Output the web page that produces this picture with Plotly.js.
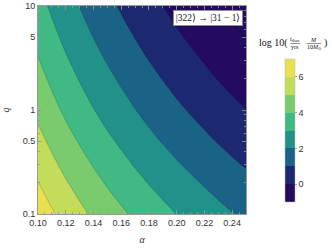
<!DOCTYPE html>
<html>
<head>
<meta charset="utf-8">
<script src="https://cdn.plot.ly/plotly-3.0.1.min.js"></script>
<style>html,body{margin:0;padding:0;background:#fff;}#chart{width:332px;height:250px;}</style>
</head>
<body>
<div id="chart"></div>
<script>
// alpha values (x)
var alphaVals = [0.10, 0.11, 0.12, 0.13, 0.14, 0.15, 0.16, 0.17, 0.18, 0.19, 0.20, 0.21, 0.22, 0.23, 0.24, 0.25];
// q values (y, log axis)
var qVals = [0.1, 0.1778, 0.3162, 0.5623, 1, 1.778, 3.162, 5.623, 10];
// log10(t_float/yrs * M/10Msun); one row per q
var zRows = [
  [6.60, 6.11, 5.65, 5.24, 4.85, 4.49, 4.16, 3.84, 3.54, 3.26, 2.99, 2.74, 2.50, 2.26, 2.04, 1.83],
  [6.12, 5.63, 5.17, 4.76, 4.37, 4.01, 3.68, 3.36, 3.06, 2.78, 2.51, 2.26, 2.02, 1.78, 1.56, 1.35],
  [5.65, 5.16, 4.70, 4.29, 3.90, 3.54, 3.21, 2.89, 2.59, 2.31, 2.04, 1.79, 1.55, 1.31, 1.09, 0.88],
  [5.20, 4.71, 4.25, 3.84, 3.45, 3.09, 2.76, 2.44, 2.14, 1.86, 1.59, 1.34, 1.10, 0.86, 0.64, 0.43],
  [4.78, 4.29, 3.83, 3.42, 3.03, 2.67, 2.34, 2.02, 1.72, 1.44, 1.17, 0.92, 0.68, 0.44, 0.22, 0.01],
  [4.39, 3.90, 3.44, 3.03, 2.64, 2.28, 1.95, 1.63, 1.33, 1.05, 0.78, 0.53, 0.29, 0.05, -0.17, -0.38],
  [4.02, 3.53, 3.07, 2.66, 2.27, 1.91, 1.58, 1.26, 0.96, 0.68, 0.41, 0.16, -0.08, -0.32, -0.54, -0.75],
  [3.67, 3.18, 2.72, 2.31, 1.92, 1.56, 1.23, 0.91, 0.61, 0.33, 0.06, -0.19, -0.43, -0.67, -0.89, -1.10],
  [3.34, 2.85, 2.39, 1.98, 1.59, 1.23, 0.90, 0.58, 0.28, 0.00, -0.27, -0.52, -0.76, -1.00, -1.22, -1.43]
];
var xTickVals = [0.10, 0.12, 0.14, 0.16, 0.18, 0.20, 0.22, 0.24];
var yTickVals = [0.1, 0.5, 1, 5, 10];
var yTickText = ['0.1', '0.5', '1', '5', '10'];
var yMinorVals = [0.2, 0.3, 0.4, 0.6, 0.7, 0.8, 0.9, 2, 3, 4, 6, 7, 8, 9];
var cbTickVals = [0, 2, 4, 6];
var cbRange = [-1, 7];
var bandColors = ['#240a60', '#1c2870', '#1b6287', '#22918a', '#40b985', '#7acb6e', '#c3dd5b', '#e9e050'];

// smooth scale for contour fill (band k sampled at k/7)
var cscale = bandColors.map(function (c, i) { return [i / (bandColors.length - 1), c]; });
// stepped scale for the colour bar (8 equal bands from -1 to 7)
var stepScale = [];
bandColors.forEach(function (c, i) {
  stepScale.push([i / bandColors.length, c]);
  stepScale.push([(i + 1) / bandColors.length, c]);
});

// layout geometry (pixels)
var L = 38, R = 86, T = 6, B = 36, W = 332, H = 250;
var pw = W - L - R, ph = H - T - B;
function px(x) { return (x - L) / pw; }
function py(y) { return (H - B - y) / ph; }

var tickFont = {family: 'Liberation Sans, Arial, sans-serif', size: 9, color: '#333'};
var serif = 'Liberation Serif, Times New Roman, serif';

var traces = [
  {
    type: 'contour', x: alphaVals, y: qVals, z: zRows,
    colorscale: cscale, autocontour: false, showscale: false,
    contours: {start: 0, end: 6, size: 1, coloring: 'fill', showlines: true},
    line: {color: 'rgba(0,0,0,0.3)', width: 0.6, smoothing: 1},
    hoverinfo: 'skip'
  },
  {
    type: 'contour', x: alphaVals, y: qVals, z: zRows, autocontour: false,
    contours: {start: -1, end: -1, size: 1, coloring: 'none', showlines: true},
    line: {color: 'rgba(0,0,0,0.45)', width: 0.6, smoothing: 1},
    showscale: false, hoverinfo: 'skip'
  },
  {
    // colour-bar carrier: its two cells sit outside the axis range, so only the bar shows
    type: 'heatmap', x: [0.40, 0.41], y: [qVals[0]], z: [cbRange],
    zauto: false, zmin: cbRange[0], zmax: cbRange[1],
    colorscale: stepScale, hoverinfo: 'skip', showscale: true,
    colorbar: {
      x: px(285), xanchor: 'left', xpad: 0,
      y: py(130.5), yanchor: 'middle', ypad: 0,
      len: 143, lenmode: 'pixels', thickness: 10, thicknessmode: 'pixels',
      outlinewidth: 0.5, outlinecolor: '#bbb',
      tickvals: cbTickVals, ticks: 'outside', ticklen: 2, tickcolor: '#999',
      tickfont: tickFont
    }
  }
];

var axisCommon = {
  showline: true, linecolor: '#999', linewidth: 1, mirror: 'allticks',
  ticks: 'inside', ticklen: 4, tickcolor: '#999', tickwidth: 0.8,
  tickfont: tickFont, showgrid: false, zeroline: false
};

var layout = {
  width: W, height: H,
  margin: {l: L, r: R, t: T, b: B},
  paper_bgcolor: '#fff', plot_bgcolor: '#fff',
  showlegend: false,
  xaxis: Object.assign({}, axisCommon, {
    range: [0.1, 0.25], autorange: false, tickvals: xTickVals, tickformat: '.2f',
    minor: {dtick: 0.005, tick0: 0.1, ticks: 'inside', ticklen: 2, tickcolor: '#999'},
    title: {text: '<i>α</i>', font: {family: serif, size: 10, color: '#333'}, standoff: 9}
  }),
  yaxis: Object.assign({}, axisCommon, {
    type: 'log', range: [-1, 1], autorange: false, tickvals: yTickVals, ticktext: yTickText,
    minor: {tickvals: yMinorVals, ticks: 'inside', ticklen: 2, tickcolor: '#999'},
    title: {text: '<i>q</i>', font: {family: serif, size: 10, color: '#333'}, standoff: 13}
  }),
  shapes: [
    {type: 'line', xref: 'paper', yref: 'paper', x0: px(290.5), x1: px(300), y0: py(43.5), y1: py(43.5), line: {color: '#222', width: 0.5}},
    {type: 'line', xref: 'paper', yref: 'paper', x0: px(306.5), x1: px(321), y0: py(43.5), y1: py(43.5), line: {color: '#222', width: 0.5}}
  ],
  annotations: [
    {xref: 'paper', yref: 'paper', x: px(243), y: py(10), xanchor: 'right', yanchor: 'top',
     text: '|322⟩ → |31 − 1⟩', showarrow: false,
     font: {family: serif, size: 9.5, color: '#111'},
     bgcolor: '#fff', bordercolor: '#888', borderwidth: 0.8, borderpad: 2},
    {xref: 'paper', yref: 'paper', x: px(290), y: py(42.5), xanchor: 'right', yanchor: 'middle',
     text: 'log 10(', showarrow: false, font: {family: serif, size: 10, color: '#111'}},
    {xref: 'paper', yref: 'paper', x: px(295.2), y: py(40), xanchor: 'center', yanchor: 'middle',
     text: '<i>t</i><sub>float</sub>', showarrow: false, font: {family: serif, size: 6, color: '#111'}},
    {xref: 'paper', yref: 'paper', x: px(295.2), y: py(47.5), xanchor: 'center', yanchor: 'middle',
     text: 'yrs', showarrow: false, font: {family: serif, size: 6, color: '#111'}},
    {xref: 'paper', yref: 'paper', x: px(313.7), y: py(39.5), xanchor: 'center', yanchor: 'middle',
     text: '<i>M</i>', showarrow: false, font: {family: serif, size: 6, color: '#111'}},
    {xref: 'paper', yref: 'paper', x: px(313.7), y: py(47.5), xanchor: 'center', yanchor: 'middle',
     text: '10<i>M</i><sub>⊙</sub>', showarrow: false, font: {family: serif, size: 6, color: '#111'}},
    {xref: 'paper', yref: 'paper', x: px(322), y: py(42.5), xanchor: 'left', yanchor: 'middle',
     text: ')', showarrow: false, font: {family: serif, size: 10, color: '#111'}}
  ]
};

Plotly.newPlot('chart', traces, layout, {displayModeBar: false, staticPlot: true});
</script>
</body>
</html>
